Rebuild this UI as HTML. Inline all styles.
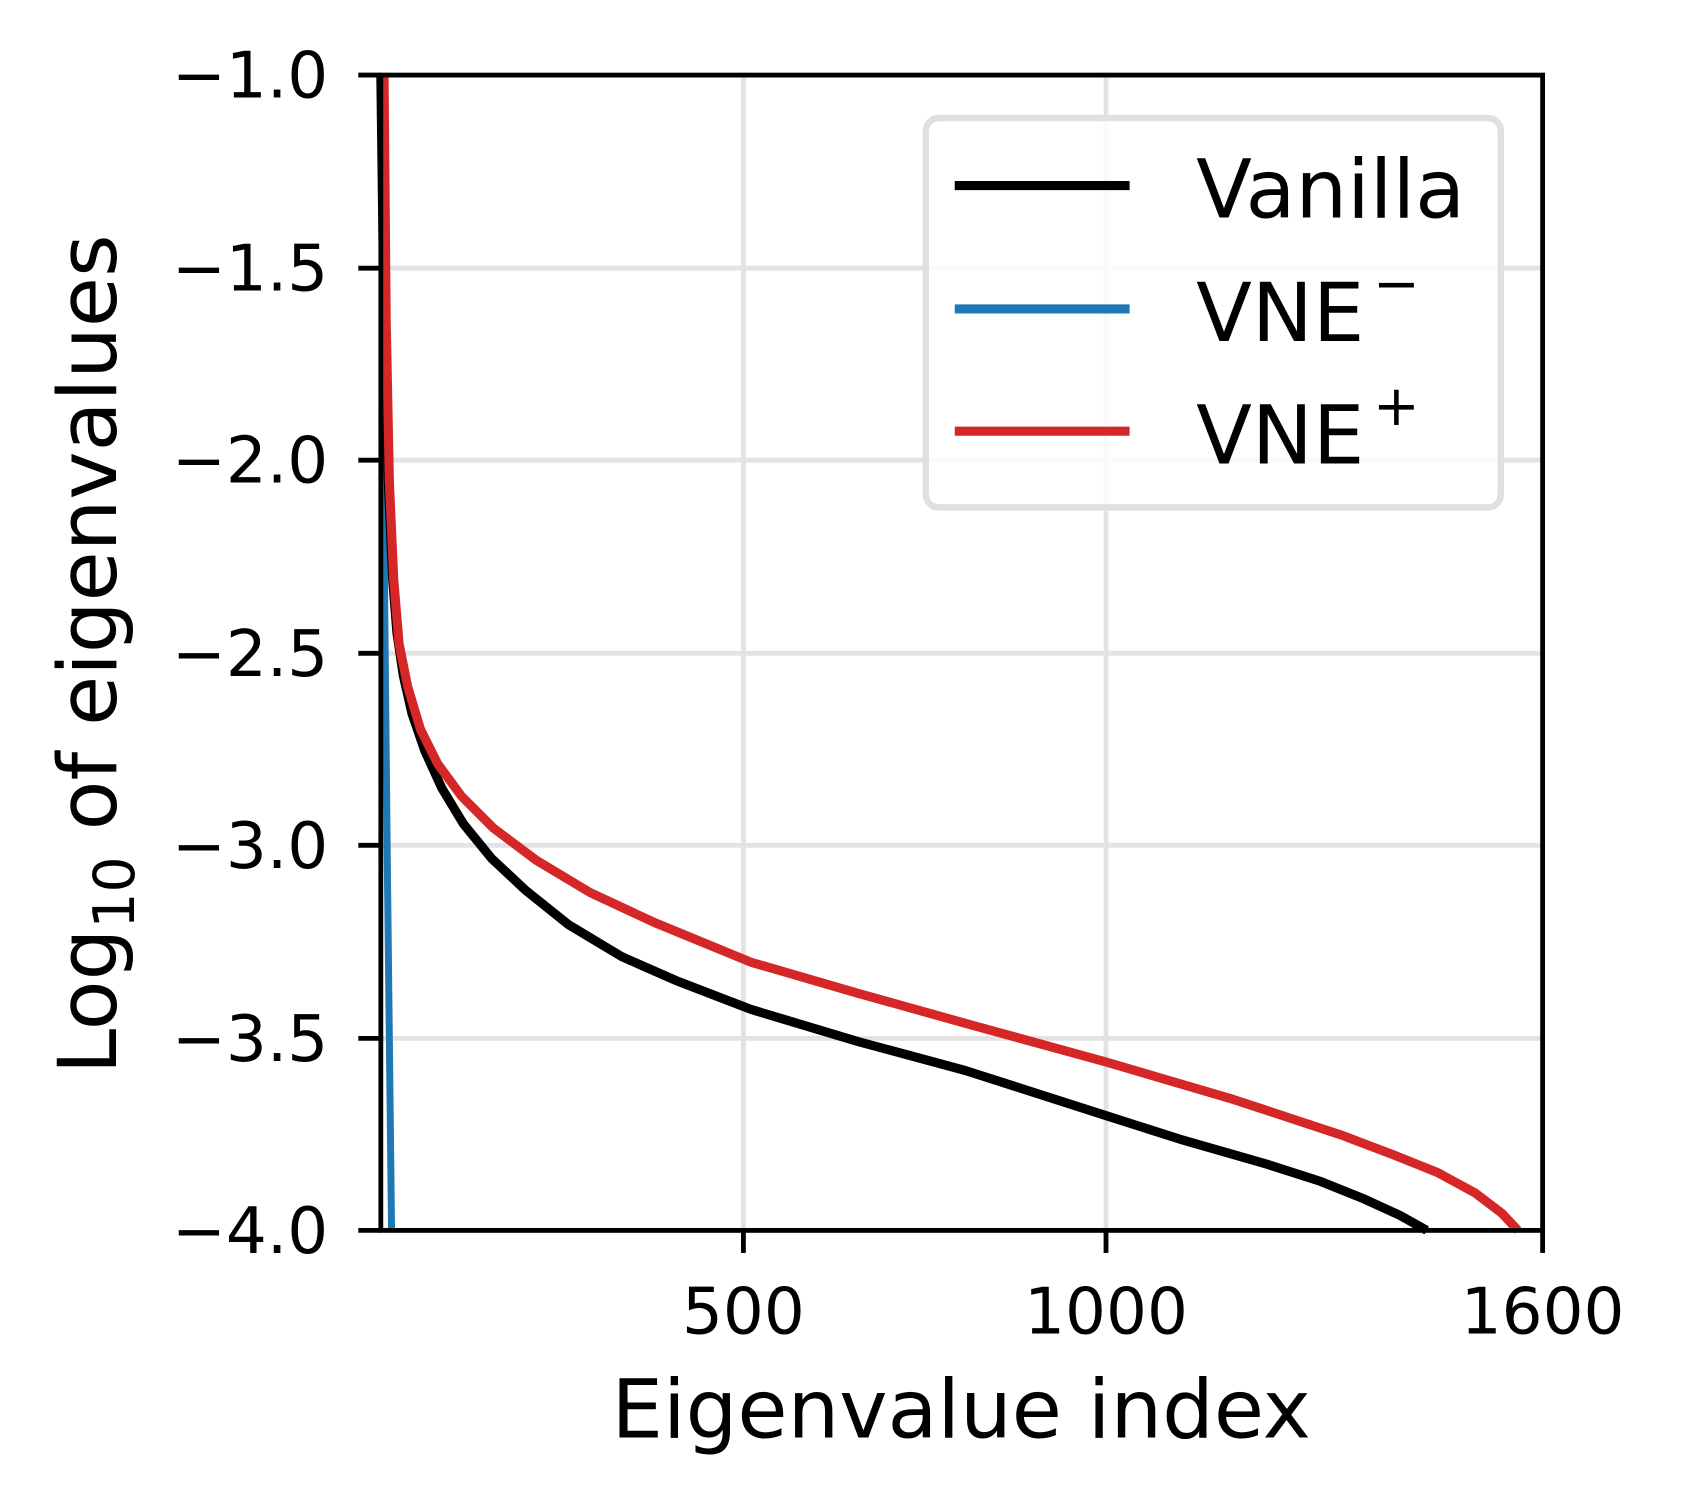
<!DOCTYPE html>
<html><head><meta charset="utf-8"><style>html,body{margin:0;padding:0;background:#fff}svg{display:block}</style></head>
<body>
<svg width="1681" height="1505" viewBox="0 0 1567 1403" preserveAspectRatio="none" xmlns="http://www.w3.org/2000/svg" font-family="'DejaVu Sans','Liberation Sans',sans-serif">
<rect width="1567" height="1403" fill="#fff"/>
<g stroke="#e3e3e3" stroke-width="4.5">
<line x1="693" y1="70" x2="693" y2="1147"/><line x1="1031" y1="70" x2="1031" y2="1147"/>
<line x1="355" y1="250" x2="1438" y2="250"/><line x1="355" y1="429" x2="1438" y2="429"/>
<line x1="355" y1="609" x2="1438" y2="609"/><line x1="355" y1="788" x2="1438" y2="788"/>
<line x1="355" y1="968" x2="1438" y2="968"/>
</g>
<g fill="none" stroke-linejoin="round" stroke-linecap="butt">
<polyline stroke="#1f77b4" stroke-width="6.5" points="356,70 357,300 358,500 361,800 365,1147"/>
<polyline stroke="#000" stroke-width="8.5" points="355,70 358,300 362,450 366,540 370,590 376,630 384,665 396,700 412,735 432,768 458,800 490,830 530,862 580,892 630,914 700,941 800,971 900,998 1031,1040 1100,1062 1180,1085 1230,1101 1270,1117 1305,1133 1330,1147"/>
<polyline stroke="#d62728" stroke-width="8.5" points="358,70 360,300 363,450 367,540 372,600 380,640 392,680 408,712 430,742 460,772 500,802 550,832 610,860 700,897 800,926 900,954 1031,990 1150,1025 1250,1058 1300,1077 1340,1093 1375,1112 1400,1131 1415,1147"/>
</g>
<g stroke="#000" stroke-width="4.5">
<rect x="355" y="70" width="1083" height="1077" fill="none"/>
<line x1="334" y1="70" x2="355" y2="70"/><line x1="334" y1="250" x2="355" y2="250"/><line x1="334" y1="429" x2="355" y2="429"/><line x1="334" y1="609" x2="355" y2="609"/><line x1="334" y1="788" x2="355" y2="788"/><line x1="334" y1="968" x2="355" y2="968"/><line x1="334" y1="1147" x2="355" y2="1147"/>
<line x1="693" y1="1147" x2="693" y2="1168"/><line x1="1031" y1="1147" x2="1031" y2="1168"/><line x1="1438" y1="1147" x2="1438" y2="1168"/>
</g>
<g font-size="60" text-anchor="end" fill="#000">
<text x="306" y="91">−1.0</text><text x="306" y="271">−1.5</text><text x="306" y="450">−2.0</text><text x="306" y="630">−2.5</text><text x="306" y="809">−3.0</text><text x="306" y="989">−3.5</text><text x="306" y="1168">−4.0</text>
</g>
<g font-size="60" text-anchor="middle" fill="#000">
<text x="693" y="1243">500</text><text x="1031" y="1243">1000</text><text x="1438" y="1243">1600</text>
</g>
<text x="896" y="1340" font-size="76" text-anchor="middle">Eigenvalue index</text>
<text transform="translate(108,610) rotate(-90)" font-size="76" text-anchor="middle">Log<tspan font-size="53" dy="17">10</tspan><tspan dy="-17"> of eigenvalues</tspan></text>
<rect x="863" y="110" width="536" height="363" rx="12" fill="#fff" fill-opacity="0.8" stroke="#e0e0e0" stroke-width="6"/>
<line x1="890" y1="173" x2="1053" y2="173" stroke="#000" stroke-width="8.5"/>
<line x1="890" y1="288" x2="1053" y2="288" stroke="#1f77b4" stroke-width="8.5"/>
<line x1="890" y1="402" x2="1053" y2="402" stroke="#d62728" stroke-width="8.5"/>
<g font-size="76" fill="#000">
<text x="1115" y="203">Vanilla</text>
<text x="1115" y="318">VNE<tspan font-size="52" dy="-36" dx="8">−</tspan></text>
<text x="1115" y="432">VNE<tspan font-size="52" dy="-36" dx="8">+</tspan></text>
</g>
</svg>
</body></html>
